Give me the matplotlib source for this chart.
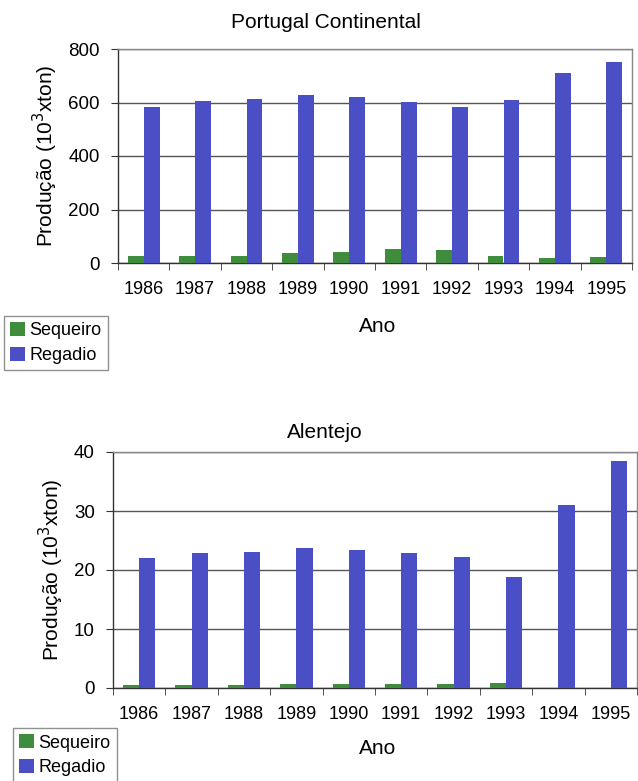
import matplotlib
matplotlib.use("Agg")
from matplotlib import pyplot as plt
from matplotlib.patches import Patch
import numpy as np

plt.rcParams['font.family'] = ['Liberation Sans', 'DejaVu Sans']

anos = ['1986', '1987', '1988', '1989', '1990', '1991', '1992', '1993', '1994', '1995']

# Portugal Continental (10^3 ton)
pt_sequeiro = [25, 26, 28, 38, 40, 53, 48, 26, 20, 21]
pt_regadio = [585, 605, 612, 627, 620, 601, 585, 610, 712, 751]

# Alentejo (10^3 ton)
al_sequeiro = [0.5, 0.5, 0.5, 0.6, 0.6, 0.7, 0.7, 0.8, 0.0, 0.0]
al_regadio = [22.0, 22.9, 23.0, 23.7, 23.4, 22.8, 22.2, 18.8, 31.0, 38.5]

VERDE = '#3f8c3c'
AZUL = '#4a4fc6'

W, H = 638, 781
fig = plt.figure(figsize=(W / 100, H / 100), dpi=100)


def px_axes(left, top, right, bottom):
    return fig.add_axes([left / W, 1 - bottom / H, (right - left) / W, (bottom - top) / H])


def draw_panel(ax, seq, reg, ymax, step):
    x = np.arange(len(anos))
    w = 0.31
    ax.bar(x - w / 2, seq, width=w, color=VERDE, zorder=3)
    ax.bar(x + w / 2, reg, width=w, color=AZUL, zorder=3)
    ax.set_xlim(-0.5, len(anos) - 0.5)
    ax.set_ylim(0, ymax)
    ax.set_yticks(np.arange(0, ymax + 1, step))
    ax.set_xticks(x)
    ax.set_xticklabels(anos, fontsize=13)
    ax.set_xticks(np.arange(-0.5, len(anos)), minor=True)
    ax.tick_params(axis='x', which='major', length=0, pad=13)
    ax.tick_params(axis='x', which='minor', length=5, direction='out', color='#333333')
    ax.tick_params(axis='y', length=5, direction='out', labelsize=13.5, pad=8, color='#333333')
    ax.grid(axis='y', color='#555555', linewidth=1.0, zorder=0)
    for s in ax.spines.values():
        s.set_color('#888888')
        s.set_linewidth(1.0)
    ax.spines['left'].set_color('#333333')
    ax.spines['bottom'].set_color('#333333')
    ax.set_ylabel('Produção (10$^3$xton)', fontsize=15, labelpad=6)


ax1 = px_axes(118, 49, 632, 263)
draw_panel(ax1, pt_sequeiro, pt_regadio, 800, 200)
ax2 = px_axes(113, 452, 637, 688)
draw_panel(ax2, al_sequeiro, al_regadio, 40, 10)

fig.text(326 / W, 1 - 23 / H, 'Portugal Continental', ha='center', va='center', fontsize=15)
fig.text(325 / W, 1 - 432 / H, 'Alentejo', ha='center', va='center', fontsize=15)
fig.text(378 / W, 1 - 326 / H, 'Ano', ha='center', va='center', fontsize=15)
fig.text(378 / W, 1 - 749 / H, 'Ano', ha='center', va='center', fontsize=15)

handles = [Patch(facecolor=VERDE, label='Sequeiro'), Patch(facecolor=AZUL, label='Regadio')]
for lx, ly in [(4, 316), (13, 728)]:
    leg = fig.legend(handles=handles, loc='upper left', bbox_to_anchor=(lx / W, 1 - ly / H),
                     fontsize=13, frameon=True, fancybox=False, handlelength=0.8,
                     handleheight=0.8, handletextpad=0.25, borderpad=0.35, labelspacing=0.4,
                     borderaxespad=0)
    leg.get_frame().set_edgecolor('#777777')
    leg.get_frame().set_linewidth(1.0)

fig.savefig('out.png', dpi=100, facecolor='white')
